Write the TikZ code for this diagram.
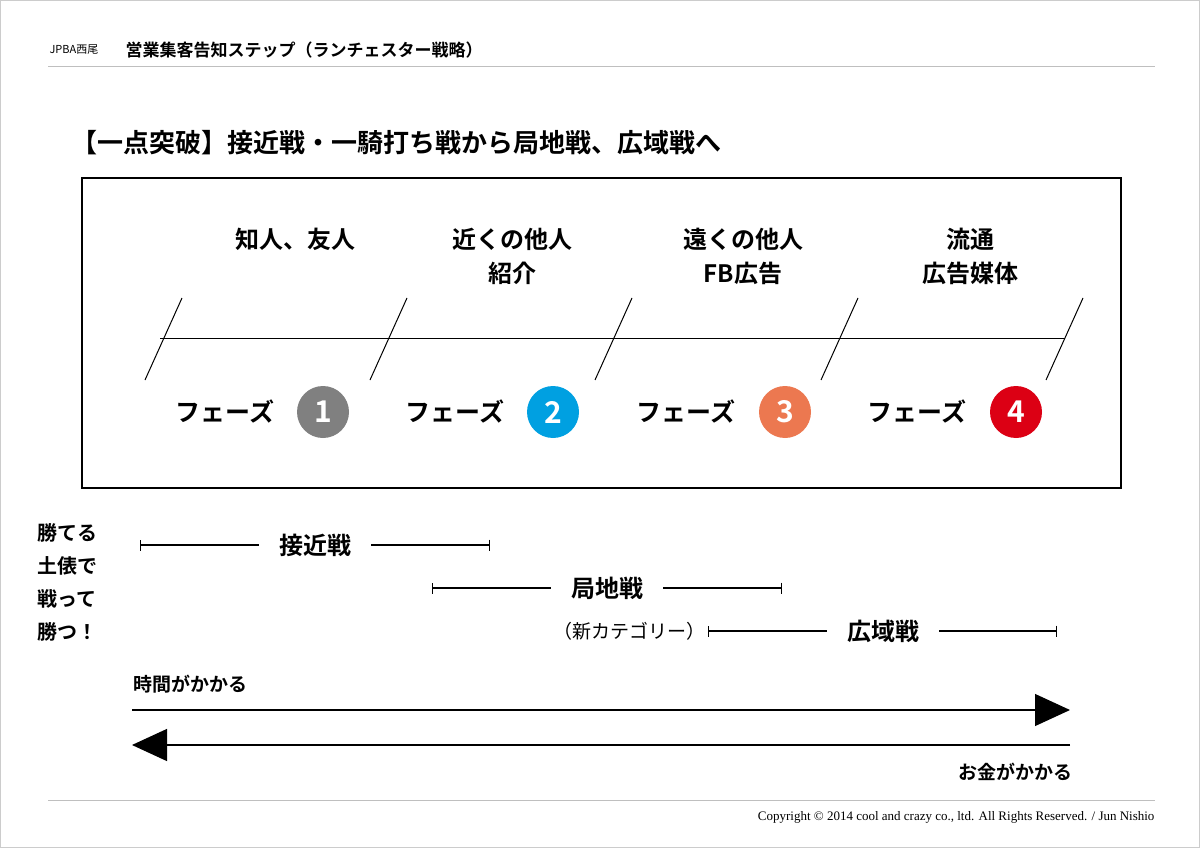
\documentclass[tikz,border=0pt]{standalone}
\usepackage{fontspec}
\newfontfamily\jp{Noto Sans CJK JP}[BoldFont={Noto Sans CJK JP Bold}]
\setmainfont{Liberation Serif}
\usetikzlibrary{arrows.meta}
\definecolor{phgray}{RGB}{128,128,128}
\definecolor{phblue}{RGB}{0,160,225}
\definecolor{phorange}{RGB}{236,120,80}
\definecolor{phred}{RGB}{220,0,20}
\tikzset{
  stage/.style={font=\jp\bfseries\fontsize{24}{34}\selectfont, align=center, anchor=north},
  phase/.style={font=\jp\bfseries\fontsize{25}{30}\selectfont},
  badge/.style={circle, minimum size=52pt, inner sep=0pt, text=white, font=\jp\bfseries\fontsize{30}{30}\selectfont},
  battle/.style={font=\jp\bfseries\fontsize{24}{28}\selectfont, inner xsep=20pt},
  bar/.style={line width=1.2pt, arrows={{Bar[width=11pt]}-}},
  slash/.style={line width=1pt},
  bigarrow/.style={line width=1.2pt, arrows={-{Triangle[length=35pt,width=32pt]}}}
}
\begin{document}
\begin{tikzpicture}[x=1pt, y=-1pt]
  \useasboundingbox (0,0) rectangle (1200,848);
  \draw[gray!40, line width=2pt] (0,0) rectangle (1200,848);

  % header
  \node[anchor=west, font=\jp\fontsize{11}{11}\selectfont] (org) at (46,50) {JPBA西尾};
  \node[anchor=west, font=\jp\bfseries\fontsize{17}{17}\selectfont] (head) at (122,50) {営業集客告知ステップ（ランチェスター戦略）};
  \draw[gray!50] (48,66) -- (1155,66);

  \node[anchor=west, font=\jp\bfseries\fontsize{26}{26}\selectfont] (title) at (68,143) {【一点突破】接近戦・一騎打ち戦から局地戦、広域戦へ};

  % phase box
  \draw[line width=1.8pt] (82,178) rectangle (1121,488);
  \coordinate (l0) at (160,338);
  \coordinate (l1) at (1065,338);
  \draw[line width=1pt] (l0) -- (l1);
  \foreach \x in {182,407,632,858,1083}
    \draw[slash] (\x,298) -- (\x-37,380);

  \node[stage] (s1) at (295,225) {知人、友人};
  \node[stage] (s2) at (512,225) {近くの他人\\紹介};
  \node[stage] (s3) at (743,225) {遠くの他人\\FB広告};
  \node[stage] (s4) at (970,225) {流通\\広告媒体};

  \node[phase] (p1) at (225,412) {フェーズ};
  \node[badge, fill=phgray] (b1) at (323,412) {1};
  \node[phase] (p2) at (455,412) {フェーズ};
  \node[badge, fill=phblue] (b2) at (553,412) {2};
  \node[phase] (p3) at (686,412) {フェーズ};
  \node[badge, fill=phorange] (b3) at (785,412) {3};
  \node[phase] (p4) at (917,412) {フェーズ};
  \node[badge, fill=phred] (b4) at (1016,412) {4};

  % ranges
  \node[anchor=north west, align=left, font=\jp\bfseries\fontsize{20}{33}\selectfont] (motto) at (34,520) {勝てる\\土俵で\\戦って\\勝つ！};

  \coordinate (r1a) at (140,545);
  \coordinate (r1b) at (490,545);
  \node[battle] (r1) at (315,545) {接近戦};
  \draw[bar] (r1a) -- (r1.west);
  \draw[bar] (r1b) -- (r1.east);

  \coordinate (r2a) at (432,588);
  \coordinate (r2b) at (782,588);
  \node[battle] (r2) at (607,588) {局地戦};
  \draw[bar] (r2a) -- (r2.west);
  \draw[bar] (r2b) -- (r2.east);

  \coordinate (r3a) at (708,631);
  \coordinate (r3b) at (1057,631);
  \node[battle] (r3) at (883,631) {広域戦};
  \draw[bar] (r3a) -- (r3.west);
  \draw[bar] (r3b) -- (r3.east);
  \node[anchor=east, font=\jp\fontsize{19}{19}\selectfont, inner sep=2pt] (newcat) at (r3a) {（新カテゴリー）};

  % time and money
  \node[anchor=west, font=\jp\bfseries\fontsize{19}{19}\selectfont] (time) at (130,684) {時間がかかる};
  \coordinate (t0) at (132,710);
  \coordinate (t1) at (1070,710);
  \draw[bigarrow] (t0) -- (t1);
  \coordinate (m0) at (1070,745);
  \coordinate (m1) at (132,745);
  \draw[bigarrow] (m0) -- (m1);
  \node[anchor=east, font=\jp\bfseries\fontsize{19}{19}\selectfont] (money) at (1076,772) {お金がかかる};

  % footer
  \draw[gray!50] (48,800) -- (1155,800);
  \node[anchor=east, font=\fontsize{13}{13}\selectfont] (copy) at (1158,817) {Copyright © 2014 cool and crazy co., ltd. All Rights Reserved. / Jun Nishio};
\end{tikzpicture}
\end{document}
